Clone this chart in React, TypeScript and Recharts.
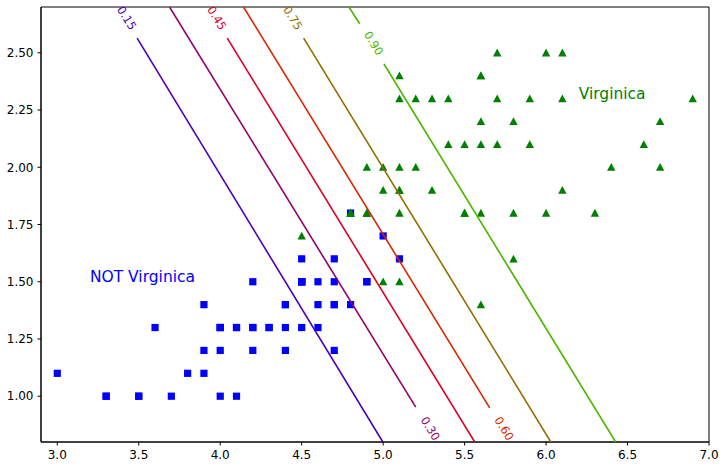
import React from "react";
import { ScatterChart, Scatter, XAxis, YAxis, ReferenceArea } from "recharts";

// petal length / width, Iris versicolor (plotted as "NOT Virginica")
const notVirginicaLength = [
  4.7, 4.5, 4.9, 4.0, 4.6, 4.5, 4.7, 3.3, 4.6, 3.9, 3.5, 4.2, 4.0, 4.7, 3.6, 4.4, 4.5,
  4.1, 4.5, 3.9, 4.8, 4.0, 4.9, 4.7, 4.3, 4.4, 4.8, 5.0, 4.5, 3.5, 3.8, 3.7, 3.9, 5.1,
  4.5, 4.5, 4.7, 4.4, 4.1, 4.0, 4.4, 4.6, 4.0, 3.3, 4.2, 4.2, 4.2, 4.3, 3.0, 4.1,
];
const notVirginicaWidth = [
  1.4, 1.5, 1.5, 1.3, 1.5, 1.3, 1.6, 1.0, 1.3, 1.4, 1.0, 1.5, 1.0, 1.4, 1.3, 1.4, 1.5,
  1.0, 1.5, 1.1, 1.8, 1.3, 1.5, 1.2, 1.3, 1.4, 1.4, 1.7, 1.5, 1.0, 1.1, 1.0, 1.2, 1.6,
  1.5, 1.6, 1.5, 1.3, 1.3, 1.3, 1.2, 1.4, 1.2, 1.0, 1.3, 1.2, 1.3, 1.3, 1.1, 1.3,
];

// petal length / width, Iris virginica
const virginicaLength = [
  6.0, 5.1, 5.9, 5.6, 5.8, 6.6, 4.5, 6.3, 5.8, 6.1, 5.1, 5.3, 5.5, 5.0, 5.1, 5.3, 5.5,
  6.7, 6.9, 5.0, 5.7, 4.9, 6.7, 4.9, 5.7, 6.0, 4.8, 4.9, 5.6, 5.8, 6.1, 6.4, 5.6, 5.1,
  5.6, 6.1, 5.6, 5.5, 4.8, 5.4, 5.6, 5.1, 5.1, 5.9, 5.7, 5.2, 5.0, 5.2, 5.4, 5.1,
];
const virginicaWidth = [
  2.5, 1.9, 2.1, 1.8, 2.2, 2.1, 1.7, 1.8, 1.8, 2.5, 2.0, 1.9, 2.1, 2.0, 2.4, 2.3, 1.8,
  2.2, 2.3, 1.5, 2.3, 2.0, 2.0, 1.8, 2.1, 1.8, 1.8, 1.8, 2.1, 1.6, 1.9, 2.0, 2.2, 1.5,
  1.4, 2.3, 2.4, 1.8, 1.8, 2.1, 2.4, 2.3, 1.9, 2.3, 2.5, 2.3, 1.9, 2.0, 2.3, 1.8,
];

// probability contours (straight lines), with the gaps left for inline labels
const contourLevels = ["0.15", "0.30", "0.45", "0.60", "0.75", "0.90"];
const contourColors = ["#4900b6", "#92006d", "#da0024", "#da2400", "#926d00", "#49b600"];
const contourSegments: number[][][][] = [
  [[[3.49, 2.564], [4.998, 0.8]]],
  [[[3.689, 2.7], [5.2, 0.952]]],
  [[[4.043, 2.564], [5.562, 0.8]]],
  [[[4.143, 2.7], [5.654, 0.949]]],
  [[[4.512, 2.564], [6.029, 0.8]]],
  [
    [[4.79, 2.7], [4.856, 2.627]],
    [[5.005, 2.451], [6.427, 0.8]],
  ],
];
const contourLabelX = [3.426, 5.29, 3.979, 5.742, 4.446, 4.942];
const contourLabelY = [2.652, 0.859, 2.652, 0.859, 2.652, 2.542];

const annotations = [
  { x: 3.2, y: 1.5, text: "NOT Virginica", color: "#0000ff" },
  { x: 6.2, y: 2.3, text: "Virginica", color: "#008000" },
];

const xTicks = [3.0, 3.5, 4.0, 4.5, 5.0, 5.5, 6.0, 6.5, 7.0];
const yTicks = [1.0, 1.25, 1.5, 1.75, 2.0, 2.25, 2.5];
const xDomain = [2.9, 7.0];
const yDomain = [0.8, 2.7];

const FONT = "DejaVu Sans";

const notVirginica = notVirginicaLength.map((x, i) => ({ x, y: notVirginicaWidth[i] }));
const virginica = virginicaLength.map((x, i) => ({ x, y: virginicaWidth[i] }));
const contourLabels = contourLevels.map((label, i) => ({
  x: contourLabelX[i],
  y: contourLabelY[i],
  label,
  color: contourColors[i],
}));

const Square = (p: any) => (
  <rect x={p.cx - 3.6} y={p.cy - 3.6} width={7.2} height={7.2} fill="#0000ff" />
);
const Triangle = (p: any) => (
  <polygon
    points={`${p.cx},${p.cy - 4.2} ${p.cx - 4.2},${p.cy + 3.6} ${p.cx + 4.2},${p.cy + 3.6}`}
    fill="#008000"
  />
);
const Nothing = () => <g />;

const ContourLabel = (p: any) => (
  <text
    x={p.cx}
    y={p.cy}
    transform={`rotate(58.5 ${p.cx} ${p.cy})`}
    textAnchor="middle"
    dominantBaseline="central"
    fontSize={11.5}
    fontFamily={FONT}
    fill={p.payload.color}
  >
    {p.payload.label}
  </text>
);

const Annotation = (p: any) => (
  <text x={p.cx} y={p.cy} fontSize={15.5} fontFamily={FONT} fill={p.payload.color}>
    {p.payload.text}
  </text>
);

export default function App() {
  const tick = { fill: "#000", fontSize: 12, fontFamily: FONT };
  return (
    <div style={{ position: "absolute", left: 0, top: 0, width: 727, height: 469, background: "#fff" }}>
      <ScatterChart width={727} height={469} margin={{ top: 7, right: 18, bottom: 0, left: 0 }}>
        <XAxis
          type="number"
          dataKey="x"
          domain={xDomain}
          allowDataOverflow
          ticks={xTicks}
          tickFormatter={(v) => Number(v).toFixed(1)}
          height={27}
          tick={tick}
          tickSize={3.5}
          tickMargin={5}
          axisLine={{ stroke: "#000" }}
          tickLine={{ stroke: "#000" }}
        />
        <YAxis
          type="number"
          dataKey="y"
          domain={yDomain}
          allowDataOverflow
          ticks={yTicks}
          tickFormatter={(v) => Number(v).toFixed(2)}
          width={41}
          tick={tick}
          tickSize={3.5}
          tickMargin={4}
          axisLine={{ stroke: "#000" }}
          tickLine={{ stroke: "#000" }}
        />
        <ReferenceArea
          x1={xDomain[0]}
          x2={xDomain[1]}
          y1={yDomain[0]}
          y2={yDomain[1]}
          fill="none"
          fillOpacity={0}
          stroke="#000"
          strokeWidth={1}
          strokeOpacity={1}
          ifOverflow="visible"
        />
        <Scatter data={notVirginica} shape={Square} isAnimationActive={false} />
        <Scatter data={virginica} shape={Triangle} isAnimationActive={false} />
        {contourSegments.map((segs, i) =>
          segs.map((seg, j) => (
            <Scatter
              key={`c-${i}-${j}`}
              data={seg.map(([x, y]) => ({ x, y }))}
              shape={Nothing}
              line={{ stroke: contourColors[i], strokeWidth: 1.6 }}
              isAnimationActive={false}
            />
          ))
        )}
        <Scatter data={contourLabels} shape={ContourLabel} isAnimationActive={false} />
        <Scatter data={annotations} shape={Annotation} isAnimationActive={false} />
      </ScatterChart>
    </div>
  );
}
